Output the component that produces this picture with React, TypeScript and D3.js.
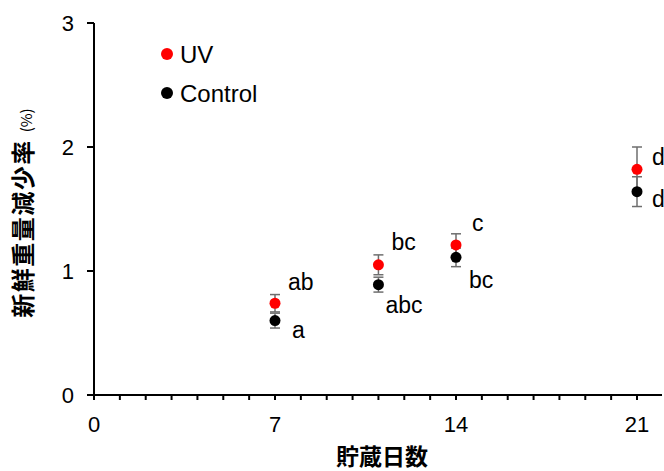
import React, { useEffect, useRef } from 'react';
import * as d3 from 'd3';

// storage days
const days = [7, 11, 14, 21];
// fresh weight loss (%)
const uvValues = [0.74, 1.05, 1.21, 1.82];
const uvErrors = [0.07, 0.08, 0.09, 0.18];
const uvLetters = ['ab', 'bc', 'c', 'd'];
const controlValues = [0.6, 0.89, 1.11, 1.64];
const controlErrors = [0.06, 0.06, 0.075, 0.12];
const controlLetters = ['a', 'abc', 'bc', 'd'];

const yTicks = [0, 1, 2, 3];
const xTicks = [0, 7, 14, 21];

// label offsets relative to each point (px)
const uvLabelOffset = [[13, -13], [13, -15], [16, -14], [15, -4]];
const controlLabelOffset = [[17, 17], [7, 28], [13, 31], [15, 15]];

const W = 664;
const H = 471;

export default function App() {
  const svgRef = useRef<SVGSVGElement>(null);

  useEffect(() => {
    if (!svgRef.current) return;
    const svg = d3.select(svgRef.current);
    svg.selectAll('*').remove();

    const x = d3.scaleLinear().domain([0, 21]).range([94, 637]);
    const y = d3.scaleLinear().domain([0, 3]).range([395, 23]);
    const font = 'Arial, "Liberation Sans", sans-serif';
    const jp = '"Noto Sans CJK JP", sans-serif';

    // y axis
    svg.append('line')
      .attr('x1', x(0)).attr('x2', x(0))
      .attr('y1', y(3)).attr('y2', y(0))
      .attr('stroke', '#000').attr('stroke-width', 2);
    svg.selectAll('.ytick').data(yTicks).enter().append('line')
      .attr('x1', x(0) - 7).attr('x2', x(0))
      .attr('y1', d => y(d)).attr('y2', d => y(d))
      .attr('stroke', '#000').attr('stroke-width', 2);
    svg.selectAll('.ylab').data(yTicks).enter().append('text')
      .attr('x', x(0) - 20).attr('y', d => y(d) + 8)
      .attr('text-anchor', 'end')
      .attr('font-family', font).attr('font-size', 22)
      .text(d => d);

    // x axis
    svg.append('line')
      .attr('x1', x(0)).attr('x2', 662)
      .attr('y1', y(0)).attr('y2', y(0))
      .attr('stroke', '#000').attr('stroke-width', 2);
    svg.selectAll('.xtick').data(d3.range(0, 22)).enter().append('line')
      .attr('x1', d => x(d)).attr('x2', d => x(d))
      .attr('y1', y(0)).attr('y2', y(0) + 5)
      .attr('stroke', '#000').attr('stroke-width', 2);
    svg.selectAll('.xlab').data(xTicks).enter().append('text')
      .attr('x', d => x(d)).attr('y', 432)
      .attr('text-anchor', 'middle')
      .attr('font-family', font).attr('font-size', 22)
      .text(d => d);

    // axis titles
    svg.append('text')
      .attr('x', 382).attr('y', 465)
      .attr('text-anchor', 'middle')
      .attr('font-family', jp).attr('font-size', 23).attr('font-weight', 'bold')
      .text('貯蔵日数');
    const yt = svg.append('text')
      .attr('transform', 'translate(32,213) rotate(-90)')
      .attr('text-anchor', 'middle')
      .attr('font-family', jp).attr('font-size', 24).attr('font-weight', 'bold');
    yt.append('tspan').attr('letter-spacing', 1.5).text('新鮮重量減少率 ');
    yt.append('tspan').attr('font-size', 15).attr('font-weight', 'normal').text('(%)');

    const series = [
      { vals: controlValues, errs: controlErrors, letters: controlLetters, off: controlLabelOffset, color: '#000000' },
      { vals: uvValues, errs: uvErrors, letters: uvLetters, off: uvLabelOffset, color: '#ff0000' },
    ];

    series.forEach(s => {
      const g = svg.append('g');
      days.forEach((d, i) => {
        const cx = x(d);
        const top = y(s.vals[i] + s.errs[i]);
        const bot = y(s.vals[i] - s.errs[i]);
        g.append('line').attr('x1', cx).attr('x2', cx).attr('y1', top).attr('y2', bot)
          .attr('stroke', '#6e6e6e').attr('stroke-width', 1.5);
        [top, bot].forEach(v => {
          g.append('line').attr('x1', cx - 5).attr('x2', cx + 5).attr('y1', v).attr('y2', v)
            .attr('stroke', '#6e6e6e').attr('stroke-width', 1.5);
        });
      });
    });

    series.forEach(s => {
      days.forEach((d, i) => {
        svg.append('circle')
          .attr('cx', x(d)).attr('cy', y(s.vals[i])).attr('r', 5.5)
          .attr('fill', s.color);
        svg.append('text')
          .attr('x', x(d) + s.off[i][0]).attr('y', y(s.vals[i]) + s.off[i][1])
          .attr('font-family', font).attr('font-size', 23)
          .text(s.letters[i]);
      });
    });

    // legend
    const legend = [
      { label: 'UV', color: '#ff0000', cy: 54 },
      { label: 'Control', color: '#000000', cy: 93 },
    ];
    legend.forEach(l => {
      svg.append('circle').attr('cx', 167).attr('cy', l.cy).attr('r', 6).attr('fill', l.color);
      svg.append('text')
        .attr('x', 180).attr('y', l.cy + 9)
        .attr('font-family', font).attr('font-size', 24)
        .text(l.label);
    });
  }, []);

  return (
    <svg
      ref={svgRef}
      width={W}
      height={H}
      style={{ position: 'absolute', left: 0, top: 0, background: '#fff' }}
    />
  );
}
